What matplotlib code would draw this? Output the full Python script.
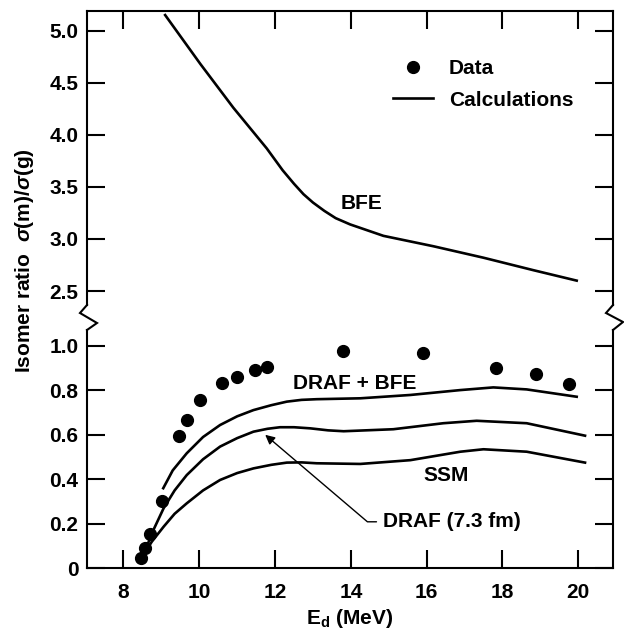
import matplotlib
matplotlib.use("Agg")
import matplotlib.pyplot as plt
from matplotlib.lines import Line2D
from matplotlib.legend_handler import HandlerLine2D

plt.rcParams['font.family'] = ['Liberation Sans', 'DejaVu Sans']
plt.rcParams['font.weight'] = 'bold'
plt.rcParams['mathtext.fontset'] = 'custom'
plt.rcParams['mathtext.rm'] = 'Liberation Sans:bold'
plt.rcParams['mathtext.it'] = 'Liberation Sans:italic:bold'

# ---------------- data ----------------
data_E = [8.47, 8.57, 8.70, 9.02, 9.46, 9.67, 10.02, 10.60, 10.99, 11.47, 11.78,
          13.79, 15.90, 17.83, 18.88, 19.77]
data_ratio = [0.045, 0.09, 0.155, 0.304, 0.596, 0.665, 0.758, 0.834, 0.861, 0.891, 0.905,
              0.978, 0.969, 0.899, 0.873, 0.828]

bfe_E = [9.10, 10.03, 10.90, 11.78, 12.20, 12.50, 12.75, 13.00, 13.30, 13.60, 13.98, 14.86,
         16.18, 17.50, 18.82, 19.96]
bfe_ratio = [5.15, 4.68, 4.26, 3.87, 3.66, 3.53, 3.43, 3.35, 3.27, 3.20, 3.14, 3.03,
             2.93, 2.82, 2.70, 2.60]

draf_bfe_E = [9.05, 9.30, 9.67, 10.10, 10.55, 11.00, 11.43, 11.90, 12.31, 12.70, 13.10, 14.25,
              15.57, 16.89, 17.76, 18.64, 19.96]
draf_bfe_ratio = [0.36, 0.44, 0.517, 0.59, 0.644, 0.683, 0.711, 0.733, 0.749, 0.757, 0.760, 0.764,
                  0.779, 0.801, 0.813, 0.804, 0.771]

draf_E = [8.55, 8.79, 9.06, 9.35, 9.67, 10.10, 10.55, 11.00, 11.43, 11.80, 12.13, 12.50, 12.93,
          13.40, 13.81, 15.12, 16.44, 17.32, 18.64, 20.18]
draf_ratio = [0.07, 0.172, 0.27, 0.35, 0.419, 0.49, 0.547, 0.585, 0.614, 0.627, 0.634, 0.634, 0.629,
              0.620, 0.616, 0.625, 0.652, 0.663, 0.652, 0.596]

ssm_E = [8.45, 8.75, 9.06, 9.35, 9.67, 10.10, 10.55, 11.00, 11.43, 11.90, 12.31, 12.70, 13.10,
         14.25, 15.57, 16.89, 17.50, 18.64, 20.18]
ssm_ratio = [0.04, 0.12, 0.187, 0.245, 0.292, 0.35, 0.397, 0.428, 0.449, 0.465, 0.475, 0.476, 0.472,
             0.469, 0.486, 0.524, 0.535, 0.524, 0.475]

x_ticks = [8, 10, 12, 14, 16, 18, 20]
low_ticks = [0, 0.2, 0.4, 0.6, 0.8, 1.0]
low_labels = ['0', '0.2', '0.4', '0.6', '0.8', '1.0']
up_ticks = [2.5, 3.0, 3.5, 4.0, 4.5, 5.0]
up_labels = ['2.5', '3.0', '3.5', '4.0', '4.5', '5.0']

# ---------------- layout ----------------
W, H = 624, 635
fig = plt.figure(figsize=(W / 100, H / 100), dpi=100)

def fx(px):
    return px / W

def fy(py):
    return 1 - py / H

L, R = 86.7, 612.7
up_top, up_bot = 11, 305
lo_top, lo_bot = 330, 568.3

ax_up = fig.add_axes([fx(L), fy(up_bot), fx(R) - fx(L), (up_bot - up_top) / H])
ax_lo = fig.add_axes([fx(L), fy(lo_bot), fx(R) - fx(L), (lo_bot - lo_top) / H])

FS = 15
LW = 1.9
SPW = 1.5

for ax in (ax_up, ax_lo):
    ax.set_xlim(7.03, 20.91)
    ax.set_xticks(x_ticks)
    for s in ax.spines.values():
        s.set_linewidth(SPW)
    ax.tick_params(direction='in', length=13, width=SPW, top=True, right=True,
                   labelsize=FS, labelright=False)

ax_up.set_ylim(2.366, 5.189)
ax_lo.set_ylim(0, 1.071)
ax_up.set_yticks(up_ticks)
ax_up.set_yticklabels(up_labels)
ax_lo.set_yticks(low_ticks)
ax_lo.set_yticklabels(low_labels)

ax_up.spines['bottom'].set_visible(False)
ax_up.tick_params(bottom=False, labelbottom=False)
ax_lo.spines['top'].set_visible(False)
ax_lo.tick_params(top=False)
ax_lo.tick_params(axis='x', pad=10.5)
ax_up.tick_params(axis='y', pad=6)
ax_lo.tick_params(axis='y', pad=6)

# curves
ax_up.plot(bfe_E, bfe_ratio, color='black', lw=LW)
calc_line, = ax_lo.plot(draf_bfe_E, draf_bfe_ratio, color='black', lw=LW)
ax_lo.plot(draf_E, draf_ratio, color='black', lw=LW)
ax_lo.plot(ssm_E, ssm_ratio, color='black', lw=LW)
data_pts, = ax_lo.plot(data_E, data_ratio, 'o', color='black', ms=8.5, ls='none')

# labels on curves
ax_up.text(14.27, 3.34, 'BFE', fontsize=FS, ha='center', va='center')
ax_lo.text(14.11, 0.831, 'DRAF + BFE', fontsize=FS, ha='center', va='center')
ax_lo.text(16.51, 0.419, 'SSM', fontsize=FS, ha='center', va='center')
ax_lo.annotate('DRAF (7.3 fm)', xy=(11.74, 0.60), xytext=(14.86, 0.209),
               fontsize=FS, ha='left', va='center',
               arrowprops=dict(arrowstyle='-|>', connectionstyle='angle,angleA=0,angleB=-40.4,rad=0',
                               relpos=(0, 0.5), shrinkA=3, shrinkB=0, lw=1.0,
                               color='black', mutation_scale=14))


class RightMarkerHandler(HandlerLine2D):
    def get_xdata(self, legend, xdescent, ydescent, width, height, fontsize):
        xdata, _ = super().get_xdata(legend, xdescent, ydescent, width, height, fontsize)
        return xdata, [-xdescent + 0.87 * width]


# legend
ax_up.legend([data_pts, calc_line], ['Data', 'Calculations'], loc='upper left',
             bbox_to_anchor=(0.5823, 0.836), frameon=False, borderpad=0, borderaxespad=0,
             handlelength=1.92, handletextpad=0.77, labelspacing=0.59, fontsize=FS,
             numpoints=1, handler_map={data_pts: RightMarkerHandler(numpoints=1)})

# axis labels
fig.text(fx(25), fy(261), r'Isomer ratio  $\sigma$(m)/$\sigma$(g)', rotation=90,
         ha='center', va='center', fontsize=FS)
fig.text(fx((L + R) / 2), fy(618), r'E$_\mathrm{d}$ (MeV)', ha='center', va='center', fontsize=FS)

# axis-break zigzags
for pts in ([(87, 305), (80, 313), (97, 323), (87, 330)],
            [(613, 305), (606, 313), (623, 322), (613, 330)]):
    xs = [fx(p[0]) for p in pts]
    ys = [fy(p[1]) for p in pts]
    fig.add_artist(Line2D(xs, ys, transform=fig.transFigure, color='black', lw=SPW,
                          solid_joinstyle='miter'))

fig.savefig('out.png', dpi=100)
